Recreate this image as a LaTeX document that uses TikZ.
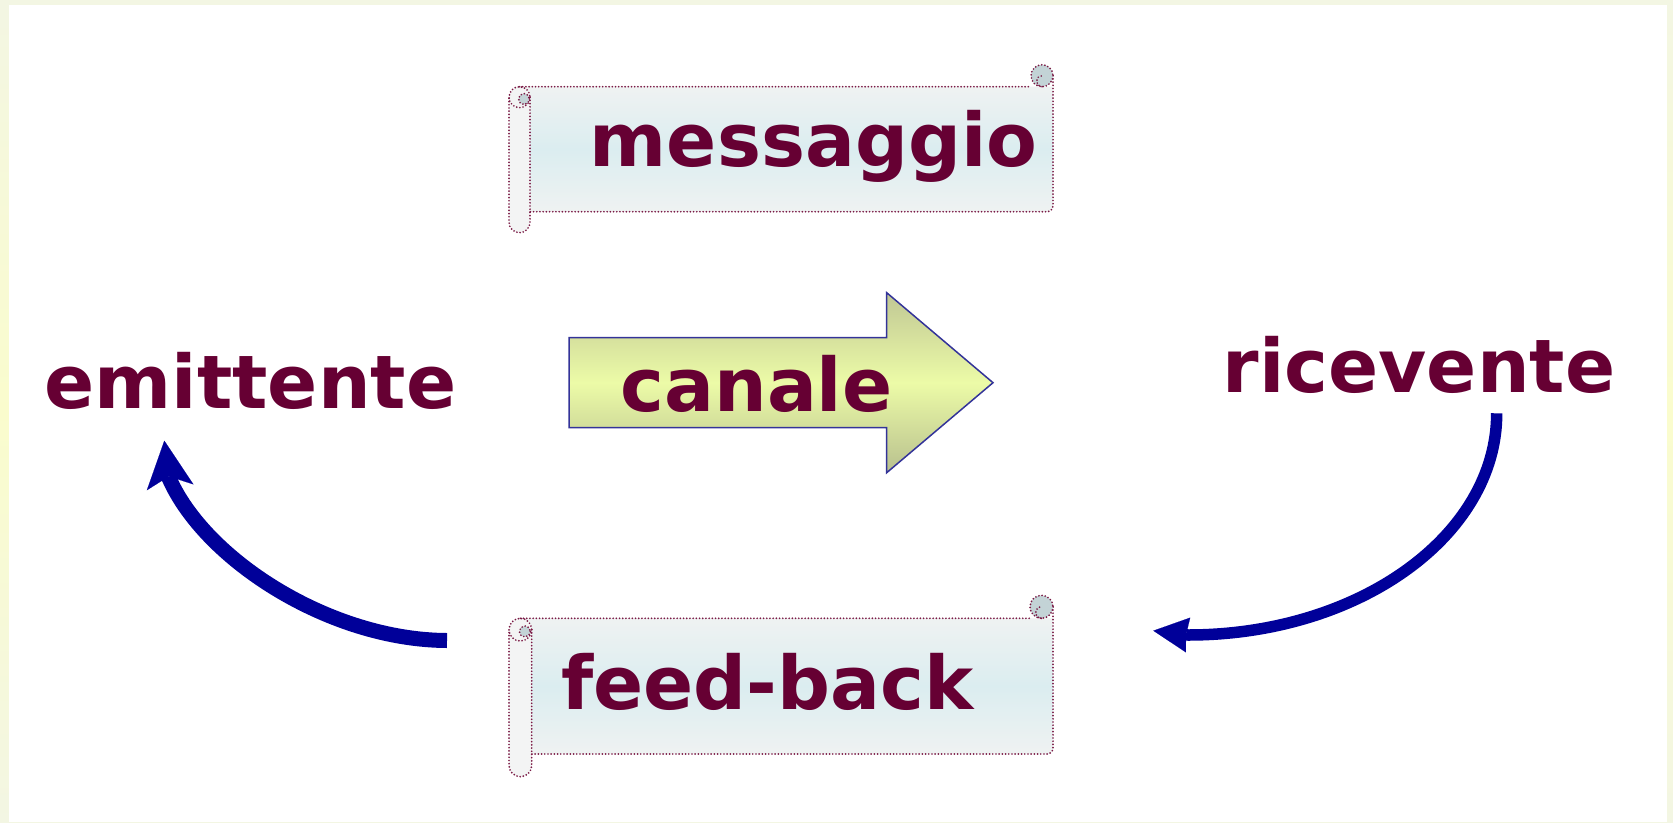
\documentclass[tikz,border=0pt]{standalone}
\usepackage{fontspec}
\setmainfont{DejaVu Sans}
\usetikzlibrary{arrows.meta}
\definecolor{txt}{HTML}{660033}
\definecolor{dotc}{HTML}{7A1A45}
\definecolor{bodyA}{HTML}{EFF2F2}
\definecolor{bodyB}{HTML}{DBEDF0}
\definecolor{tubec}{HTML}{F3F4F4}
\definecolor{curlc}{HTML}{C3D3D6}
\definecolor{arrA}{HTML}{C0C794}
\definecolor{arrB}{HTML}{ECFBA7}
\definecolor{arrC}{HTML}{B8C08E}
\definecolor{arrE}{HTML}{333399}
\definecolor{blu}{HTML}{000099}
\definecolor{bgA}{HTML}{F3F6E3}
\definecolor{bgB}{HTML}{FAFCCD}
\tikzset{
  lbl/.style={text=txt, font=\fontsize{74}{80}\selectfont\bfseries, inner sep=0pt, anchor=base},
  dots/.style={draw=dotc, line width=1.9pt, dash pattern=on 0pt off 3.2pt, line cap=round},
  bluearrow/.style={draw=blu, line cap=butt},
}
\newcommand{\myscroll}[6]{%
  \pgfmathsetmacro{\scL}{#1}\pgfmathsetmacro{\scT}{#2}\pgfmathsetmacro{\scB}{#3}%
  \pgfmathsetmacro{\scR}{#4}\pgfmathsetmacro{\scW}{#5}\pgfmathsetmacro{\scC}{#6}%
  \pgfmathsetmacro{\scH}{\scW/2}%
  \shade[top color=bodyA, bottom color=bodyA, middle color=bodyB]
    (\scL+\scH,\scT) -- (\scR,\scT) -- (\scR,\scB-6) arc[start angle=0,end angle=90,radius=6]
    -- (\scL+\scH,\scB) -- cycle;
  \path[fill=tubec] (\scL,\scT+\scH) -- (\scL,\scB+\scW-\scH)
    arc[start angle=180,end angle=0,radius=\scH] -- (\scL+\scW,\scT+\scH)
    arc[start angle=0,end angle=-180,radius=\scH] -- cycle;
  \draw[dots] (\scL+\scW,\scT+\scH) -- (\scL+\scW,\scB+\scW-\scH)
    arc[start angle=0,end angle=180,radius=\scH] -- (\scL,\scT+\scH);
  \draw[dots] (\scL+\scH,\scT+\scH) circle[radius=\scH];
  \draw[dots, fill=curlc] (\scL+\scH+4.5,\scT+\scH+1.8) circle[radius=5.5];
  \draw[dots] (\scL+\scH,\scT) -- (\scR-2*\scC,\scT);
  \draw[dots] (\scR,\scT-\scC) -- (\scR,\scB-6) arc[start angle=0,end angle=90,radius=6]
    -- (\scL+\scW,\scB);
  \draw[dots, fill=curlc] (\scR-\scC,\scT-\scC) circle[radius=\scC];
  \draw[dots] (\scR-\scC,\scT) arc[start angle=90,end angle=270,radius=\scC/2];
}
\begin{document}
\begin{tikzpicture}[x=1pt,y=-1pt]
\useasboundingbox (0,0) rectangle (1673,822);
% background frame
\shade[top color=bgA, bottom color=bgA, middle color=bgB] (0,0) rectangle (1673,822);
\fill[white] (9,5) rectangle (1667,822);

% scrolls
\myscroll{509}{86.7}{211.7}{1053}{21}{11}
\myscroll{509}{618.3}{754}{1053}{22.7}{11.5}

% canale arrow
\draw[arrE, line width=1.5pt, top color=arrA, bottom color=arrC, middle color=arrB]
  (569,337.7) -- (886.7,337.7) -- (886.7,292.7) -- (993,382.7) -- (886.7,472.7)
  -- (886.7,427.7) -- (569,427.7) -- cycle;

% labels
\node[lbl] (msg) at (813.5,166) {messaggio};
\node[lbl] (fb) at (767.5,709.3) {feed-back};
\node[lbl] (can) at (756.5,411.7) {canale};
\node[lbl] (emi) at (250.5,408.6) {emittente};
\node[lbl] (ric) at (1419,392.6) {ricevente};

% feedback arrows
\coordinate (fbL) at (447,640.5);
\coordinate (emJ) at (169,478);
\coordinate (emT) at (164.3,440.7);
\coordinate (rcB) at (1496.7,413.3);
\coordinate (fbR) at (1153.3,630.7);
\draw[bluearrow, line width=15pt, -{Stealth[length=47pt,width=47pt,inset=11pt,line width=0.1pt]}]
  (fbL) .. controls (330,640) and (205,560) .. (emJ) -- (emT);
\draw[bluearrow, line width=11.5pt, -{Stealth[length=35pt,width=35pt,inset=2pt,line width=0.1pt]}]
  (rcB) arc[start angle=0,end angle=90,x radius=308.7,y radius=221.7] -- (fbR);
\end{tikzpicture}
\end{document}
